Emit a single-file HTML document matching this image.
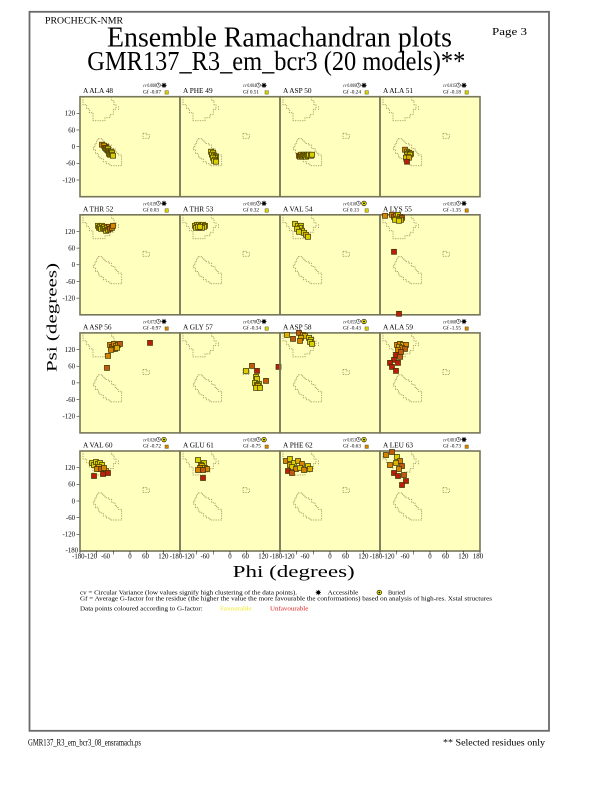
<!DOCTYPE html>
<html><head><meta charset="utf-8"><style>
html,body{margin:0;padding:0;background:#fff;}
svg{display:block;font-family:"Liberation Serif",serif;}
.lb{font-size:7.3px;fill:#000;}
.cv{font-size:5px;fill:#000;}
.tk{font-size:6.8px;fill:#000;}
.Y{fill:#d8d000;}.L{fill:#dcb000;}.O{fill:#d88400;}.B{fill:#c05a10;}.R{fill:#bc1e0c;}
</style></head><body>
<svg width="612" height="792" viewBox="0 0 612 792" xmlns="http://www.w3.org/2000/svg" xmlns:xlink="http://www.w3.org/1999/xlink">
<defs>
<g id="reg" fill="none" stroke="#978858" stroke-width="0.75" stroke-dasharray="1.3 1.1">
<path d="M3,0V8H6.7V12H9.3V16H13V24H25V21H30V17.5H33.3V12.5H36V8H34V4H31.7V0"/>
<path d="M38.5,9.5V13.5"/>
<path d="M18.3,42H22.7V44.3H25V46.7H28.3V48.3H31.7V51.7H35V54.3H36.7V56.7H38.3V58.3H41.7V69H30V67H26.7V65H23.3V62H20V60H18.3V56.7H15.5V53H13.3V50H15V46.7H16.7V43.3H18.3Z"/>
<path d="M63,36.5H66.5V38H69.5V41.5H63Z"/>
</g>
<rect id="s" x="-2.5" y="-2.5" width="5" height="5" stroke="#3a3000" stroke-width="0.7"/>
<g id="clk"><circle r="2.1" fill="#fff" stroke="#000" stroke-width="0.5"/><path d="M0,-1.5V0H1.1" stroke="#000" stroke-width="0.45" fill="none"/></g>
<g id="acc"><circle r="1.6" fill="#000"/><path d="M-2.6,0H2.6M0,-2.6V2.6M-1.9,-1.9L1.9,1.9M-1.9,1.9L1.9,-1.9" stroke="#000" stroke-width="0.8"/></g>
<g id="bur"><circle r="2.3" fill="#f4e800" stroke="#000" stroke-width="0.6"/><circle r="0.9" fill="#000"/></g>
<g id="yt">
<path d="M76.5,16.7H80M76.5,33.3H80M76.5,50H80M76.5,66.7H80M76.5,83.3H80" stroke="#000" stroke-width="0.5"/>
<text class="tk" x="75" y="19" text-anchor="end">120</text>
<text class="tk" x="75" y="35.6" text-anchor="end">60</text>
<text class="tk" x="75" y="52.3" text-anchor="end">0</text>
<text class="tk" x="75" y="69" text-anchor="end">-60</text>
<text class="tk" x="75" y="85.6" text-anchor="end">-120</text>
</g>
</defs>

<rect x="29.5" y="11.8" width="519.5" height="719" fill="none" stroke="#6a6a6a" stroke-width="1.8"/>
<text x="45" y="23.3" font-size="9" textLength="78" lengthAdjust="spacingAndGlyphs">PROCHECK-NMR</text>
<text x="492" y="35" font-size="10" textLength="35" lengthAdjust="spacingAndGlyphs">Page  3</text>
<text x="107" y="46.7" font-size="28" textLength="345" lengthAdjust="spacingAndGlyphs">Ensemble Ramachandran plots</text>
<text x="87.3" y="70" font-size="27" textLength="378" lengthAdjust="spacingAndGlyphs">GMR137_R3_em_bcr3 (20 models)**</text>

<g fill="#ffffbe">
<rect x="80" y="96.7" width="400" height="100"/>
<rect x="80" y="214.8" width="400" height="100"/>
<rect x="80" y="332.9" width="400" height="100"/>
<rect x="80" y="451" width="400" height="100"/>
</g>

<use href="#yt" y="96.7"/><use href="#yt" y="214.8"/><use href="#yt" y="332.9"/><use href="#yt" y="451"/>
<text class="tk" x="78" y="552.7" text-anchor="end">-180</text>

<g transform="translate(80,96.7)">
<use href="#reg"/><rect width="100" height="100" fill="none" stroke="#76765a" stroke-width="1.6"/>
<text class="lb" x="3" y="-3.5">A ALA 48</text>
<text class="cv" x="63" y="-9.5" textLength="13" lengthAdjust="spacingAndGlyphs"><tspan font-style="italic">cv</tspan> 0.008</text>
<use href="#clk" x="78.4" y="-11.6"/><use href="#acc" x="84" y="-11.4"/>
<text class="cv" x="63" y="-3.4" textLength="18" lengthAdjust="spacingAndGlyphs">Gf -0.07</text>
<rect x="85" y="-6" width="3.4" height="3.4" class="Y" stroke="#404000" stroke-width="0.4"/>
<use href="#s" x="22" y="48" class="O"/><use href="#s" x="26" y="50" class="O"/><use href="#s" x="24" y="49" class="L"/><use href="#s" x="25" y="51" class="B"/><use href="#s" x="26" y="52" class="Y"/><use href="#s" x="27" y="53" class="L"/><use href="#s" x="28" y="52" class="Y"/><use href="#s" x="28" y="54" class="Y"/><use href="#s" x="29" y="55" class="Y"/><use href="#s" x="30" y="56" class="L"/><use href="#s" x="31" y="55" class="Y"/><use href="#s" x="29" y="57" class="L"/><use href="#s" x="30" y="58" class="Y"/><use href="#s" x="31" y="57" class="Y"/><use href="#s" x="32" y="56" class="Y"/><use href="#s" x="32" y="58" class="Y"/><use href="#s" x="33" y="59" class="Y"/>
</g>
<g transform="translate(180,96.7)">
<use href="#reg"/><rect width="100" height="100" fill="none" stroke="#76765a" stroke-width="1.6"/>
<text class="lb" x="3" y="-3.5">A PHE 49</text>
<text class="cv" x="63" y="-9.5" textLength="13" lengthAdjust="spacingAndGlyphs"><tspan font-style="italic">cv</tspan> 0.004</text>
<use href="#clk" x="78.4" y="-11.6"/><use href="#acc" x="84" y="-11.4"/>
<text class="cv" x="63" y="-3.4" textLength="16" lengthAdjust="spacingAndGlyphs">Gf 0.51</text>
<rect x="85" y="-6" width="3.4" height="3.4" class="Y" stroke="#404000" stroke-width="0.4"/>
<use href="#s" x="32" y="57" class="L"/><use href="#s" x="31" y="55" class="Y"/><use href="#s" x="33" y="56" class="Y"/><use href="#s" x="32" y="58" class="Y"/><use href="#s" x="34" y="59" class="Y"/><use href="#s" x="36" y="60" class="Y"/><use href="#s" x="35" y="61" class="Y"/><use href="#s" x="33" y="61" class="Y"/><use href="#s" x="35" y="63" class="Y"/><use href="#s" x="34" y="64" class="Y"/><use href="#s" x="36" y="65" class="Y"/>
</g>
<g transform="translate(280,96.7)">
<use href="#reg"/><rect width="100" height="100" fill="none" stroke="#76765a" stroke-width="1.6"/>
<text class="lb" x="3" y="-3.5">A ASP 50</text>
<text class="cv" x="63" y="-9.5" textLength="13" lengthAdjust="spacingAndGlyphs"><tspan font-style="italic">cv</tspan> 0.006</text>
<use href="#clk" x="78.4" y="-11.6"/><use href="#acc" x="84" y="-11.4"/>
<text class="cv" x="63" y="-3.4" textLength="18" lengthAdjust="spacingAndGlyphs">Gf -0.24</text>
<rect x="85" y="-6" width="3.4" height="3.4" class="Y" stroke="#404000" stroke-width="0.4"/>
<use href="#s" x="19" y="59" class="B"/><use href="#s" x="20" y="60" class="O"/><use href="#s" x="21" y="58" class="L"/><use href="#s" x="22" y="60" class="Y"/><use href="#s" x="23" y="59" class="Y"/><use href="#s" x="24" y="58" class="L"/><use href="#s" x="25" y="59" class="Y"/><use href="#s" x="26" y="60" class="Y"/><use href="#s" x="27" y="58" class="Y"/><use href="#s" x="28" y="59" class="Y"/><use href="#s" x="29" y="58" class="Y"/><use href="#s" x="31" y="59" class="Y"/><use href="#s" x="32" y="58" class="Y"/>
</g>
<g transform="translate(380,96.7)">
<use href="#reg"/><rect width="100" height="100" fill="none" stroke="#76765a" stroke-width="1.6"/>
<text class="lb" x="3" y="-3.5">A ALA 51</text>
<text class="cv" x="63" y="-9.5" textLength="13" lengthAdjust="spacingAndGlyphs"><tspan font-style="italic">cv</tspan> 0.015</text>
<use href="#clk" x="78.4" y="-11.6"/><use href="#acc" x="84" y="-11.4"/>
<text class="cv" x="63" y="-3.4" textLength="18" lengthAdjust="spacingAndGlyphs">Gf -0.18</text>
<rect x="85" y="-6" width="3.4" height="3.4" class="Y" stroke="#404000" stroke-width="0.4"/>
<use href="#s" x="25" y="53" class="O"/><use href="#s" x="27" y="55" class="Y"/><use href="#s" x="29" y="56" class="Y"/><use href="#s" x="28" y="57" class="Y"/><use href="#s" x="31" y="57" class="Y"/><use href="#s" x="27" y="58" class="Y"/><use href="#s" x="30" y="58" class="Y"/><use href="#s" x="28" y="60" class="Y"/><use href="#s" x="26" y="61" class="Y"/><use href="#s" x="29" y="61" class="L"/><use href="#s" x="27" y="65" class="R"/>
</g>

<g transform="translate(80,214.8)">
<use href="#reg"/><rect width="100" height="100" fill="none" stroke="#76765a" stroke-width="1.6"/>
<text class="lb" x="3" y="-3.5">A THR 52</text>
<text class="cv" x="63" y="-9.5" textLength="13" lengthAdjust="spacingAndGlyphs"><tspan font-style="italic">cv</tspan> 0.019</text>
<use href="#clk" x="78.4" y="-11.6"/><use href="#acc" x="84" y="-11.4"/>
<text class="cv" x="63" y="-3.4" textLength="16" lengthAdjust="spacingAndGlyphs">Gf 0.03</text>
<rect x="85" y="-6" width="3.4" height="3.4" class="Y" stroke="#404000" stroke-width="0.4"/>
<use href="#s" x="18" y="11" class="Y"/><use href="#s" x="19" y="13" class="Y"/><use href="#s" x="20" y="12" class="Y"/><use href="#s" x="22" y="11" class="Y"/><use href="#s" x="21" y="14" class="Y"/><use href="#s" x="23" y="13" class="Y"/><use href="#s" x="24" y="12" class="L"/><use href="#s" x="25" y="14" class="Y"/><use href="#s" x="26" y="16" class="Y"/><use href="#s" x="27" y="13" class="Y"/><use href="#s" x="28" y="15" class="L"/><use href="#s" x="29" y="12" class="O"/><use href="#s" x="30" y="14" class="B"/><use href="#s" x="32" y="13" class="O"/><use href="#s" x="33" y="11" class="O"/>
</g>
<g transform="translate(180,214.8)">
<use href="#reg"/><rect width="100" height="100" fill="none" stroke="#76765a" stroke-width="1.6"/>
<text class="lb" x="3" y="-3.5">A THR 53</text>
<text class="cv" x="63" y="-9.5" textLength="13" lengthAdjust="spacingAndGlyphs"><tspan font-style="italic">cv</tspan> 0.005</text>
<use href="#clk" x="78.4" y="-11.6"/><use href="#acc" x="84" y="-11.4"/>
<text class="cv" x="63" y="-3.4" textLength="16" lengthAdjust="spacingAndGlyphs">Gf 0.32</text>
<rect x="85" y="-6" width="3.4" height="3.4" class="Y" stroke="#404000" stroke-width="0.4"/>
<use href="#s" x="15" y="11" class="Y"/><use href="#s" x="17" y="10" class="Y"/><use href="#s" x="19" y="10" class="Y"/><use href="#s" x="21" y="11" class="Y"/><use href="#s" x="23" y="10" class="Y"/><use href="#s" x="25" y="11" class="L"/><use href="#s" x="24" y="12" class="Y"/><use href="#s" x="22" y="13" class="Y"/><use href="#s" x="19" y="13" class="Y"/><use href="#s" x="16" y="13" class="Y"/><use href="#s" x="18" y="12" class="Y"/><use href="#s" x="20" y="12" class="Y"/>
</g>
<g transform="translate(280,214.8)">
<use href="#reg"/><rect width="100" height="100" fill="none" stroke="#76765a" stroke-width="1.6"/>
<text class="lb" x="3" y="-3.5">A VAL 54</text>
<text class="cv" x="63" y="-9.5" textLength="13" lengthAdjust="spacingAndGlyphs"><tspan font-style="italic">cv</tspan> 0.010</text>
<use href="#clk" x="78.4" y="-11.6"/><use href="#bur" x="84" y="-11.4"/>
<text class="cv" x="63" y="-3.4" textLength="16" lengthAdjust="spacingAndGlyphs">Gf 0.13</text>
<rect x="85" y="-6" width="3.4" height="3.4" class="Y" stroke="#404000" stroke-width="0.4"/>
<use href="#s" x="15" y="9" class="Y"/><use href="#s" x="18" y="11" class="Y"/><use href="#s" x="21" y="11" class="Y"/><use href="#s" x="20" y="13" class="Y"/><use href="#s" x="17" y="14" class="Y"/><use href="#s" x="22" y="16" class="Y"/><use href="#s" x="19" y="17" class="Y"/><use href="#s" x="24" y="18" class="Y"/><use href="#s" x="26" y="20" class="L"/><use href="#s" x="28" y="22" class="Y"/>
</g>
<g transform="translate(380,214.8)">
<use href="#reg"/><rect width="100" height="100" fill="none" stroke="#76765a" stroke-width="1.6"/>
<text class="lb" x="3" y="-3.5">A LYS 55</text>
<text class="cv" x="63" y="-9.5" textLength="13" lengthAdjust="spacingAndGlyphs"><tspan font-style="italic">cv</tspan> 0.053</text>
<use href="#clk" x="78.4" y="-11.6"/><use href="#acc" x="84" y="-11.4"/>
<text class="cv" x="63" y="-3.4" textLength="18" lengthAdjust="spacingAndGlyphs">Gf -1.35</text>
<rect x="85" y="-6" width="3.4" height="3.4" class="O" stroke="#404000" stroke-width="0.4"/>
<use href="#s" x="5" y="1" class="O"/><use href="#s" x="12" y="0" class="O"/><use href="#s" x="14" y="2" class="B"/><use href="#s" x="16" y="1" class="O"/><use href="#s" x="18" y="0" class="Y"/><use href="#s" x="20" y="2" class="O"/><use href="#s" x="22" y="3" class="B"/><use href="#s" x="17" y="4" class="Y"/><use href="#s" x="15" y="5" class="Y"/><use href="#s" x="21" y="5" class="L"/><use href="#s" x="19" y="6" class="Y"/><use href="#s" x="14" y="37" class="R"/><use href="#s" x="19" y="99" class="R"/>
</g>

<g transform="translate(80,332.9)">
<use href="#reg"/><rect width="100" height="100" fill="none" stroke="#76765a" stroke-width="1.6"/>
<text class="lb" x="3" y="-3.5">A ASP 56</text>
<text class="cv" x="63" y="-9.5" textLength="13" lengthAdjust="spacingAndGlyphs"><tspan font-style="italic">cv</tspan> 0.072</text>
<use href="#clk" x="78.4" y="-11.6"/><use href="#acc" x="84" y="-11.4"/>
<text class="cv" x="63" y="-3.4" textLength="18" lengthAdjust="spacingAndGlyphs">Gf -0.97</text>
<rect x="85" y="-6" width="3.4" height="3.4" class="O" stroke="#404000" stroke-width="0.4"/>
<use href="#s" x="30" y="12" class="O"/><use href="#s" x="32" y="14" class="B"/><use href="#s" x="34" y="11" class="O"/><use href="#s" x="36" y="13" class="L"/><use href="#s" x="38" y="12" class="O"/><use href="#s" x="40" y="11" class="B"/><use href="#s" x="33" y="16" class="Y"/><use href="#s" x="35" y="16" class="O"/><use href="#s" x="37" y="15" class="L"/><use href="#s" x="31" y="17" class="O"/><use href="#s" x="28" y="23" class="O"/><use href="#s" x="27" y="35" class="B"/><use href="#s" x="70" y="10" class="R"/>
</g>
<g transform="translate(180,332.9)">
<use href="#reg"/><rect width="100" height="100" fill="none" stroke="#76765a" stroke-width="1.6"/>
<text class="lb" x="3" y="-3.5">A GLY 57</text>
<text class="cv" x="63" y="-9.5" textLength="13" lengthAdjust="spacingAndGlyphs"><tspan font-style="italic">cv</tspan> 0.078</text>
<use href="#clk" x="78.4" y="-11.6"/><use href="#acc" x="84" y="-11.4"/>
<text class="cv" x="63" y="-3.4" textLength="18" lengthAdjust="spacingAndGlyphs">Gf -0.34</text>
<rect x="85" y="-6" width="3.4" height="3.4" class="Y" stroke="#404000" stroke-width="0.4"/>
<use href="#s" x="72" y="33" class="B"/><use href="#s" x="66" y="38" class="Y"/><use href="#s" x="77" y="38" class="R"/><use href="#s" x="76" y="44" class="Y"/><use href="#s" x="77" y="46" class="Y"/><use href="#s" x="86" y="48" class="B"/><use href="#s" x="75" y="50" class="Y"/><use href="#s" x="79" y="51" class="Y"/><use href="#s" x="77" y="52" class="Y"/><use href="#s" x="78" y="53" class="L"/><use href="#s" x="76" y="55" class="Y"/><use href="#s" x="80" y="55" class="Y"/><use href="#s" x="98.5" y="34" class="R"/>
</g>
<g transform="translate(280,332.9)">
<use href="#reg"/><rect width="100" height="100" fill="none" stroke="#76765a" stroke-width="1.6"/>
<text class="lb" x="3" y="-3.5">A ASP 58</text>
<text class="cv" x="63" y="-9.5" textLength="13" lengthAdjust="spacingAndGlyphs"><tspan font-style="italic">cv</tspan> 0.055</text>
<use href="#clk" x="78.4" y="-11.6"/><use href="#bur" x="84" y="-11.4"/>
<text class="cv" x="63" y="-3.4" textLength="18" lengthAdjust="spacingAndGlyphs">Gf -0.43</text>
<rect x="85" y="-6" width="3.4" height="3.4" class="Y" stroke="#404000" stroke-width="0.4"/>
<use href="#s" x="7" y="2" class="L"/><use href="#s" x="13" y="6" class="B"/><use href="#s" x="19" y="0" class="B"/><use href="#s" x="23" y="2" class="O"/><use href="#s" x="25" y="3" class="L"/><use href="#s" x="21" y="5" class="L"/><use href="#s" x="20" y="8" class="O"/><use href="#s" x="29" y="5" class="Y"/><use href="#s" x="31" y="7" class="Y"/><use href="#s" x="30" y="9" class="Y"/><use href="#s" x="32" y="11" class="Y"/>
</g>
<g transform="translate(380,332.9)">
<use href="#reg"/><rect width="100" height="100" fill="none" stroke="#76765a" stroke-width="1.6"/>
<text class="lb" x="3" y="-3.5">A ALA 59</text>
<text class="cv" x="63" y="-9.5" textLength="13" lengthAdjust="spacingAndGlyphs"><tspan font-style="italic">cv</tspan> 0.068</text>
<use href="#clk" x="78.4" y="-11.6"/><use href="#acc" x="84" y="-11.4"/>
<text class="cv" x="63" y="-3.4" textLength="18" lengthAdjust="spacingAndGlyphs">Gf -1.55</text>
<rect x="85" y="-6" width="3.4" height="3.4" class="O" stroke="#404000" stroke-width="0.4"/>
<use href="#s" x="17" y="12" class="O"/><use href="#s" x="20" y="11" class="O"/><use href="#s" x="23" y="12" class="L"/><use href="#s" x="26" y="12" class="O"/><use href="#s" x="19" y="14" class="L"/><use href="#s" x="22" y="15" class="O"/><use href="#s" x="25" y="16" class="B"/><use href="#s" x="18" y="17" class="O"/><use href="#s" x="21" y="19" class="B"/><use href="#s" x="16" y="22" class="R"/><use href="#s" x="20" y="24" class="B"/><use href="#s" x="14" y="27" class="R"/><use href="#s" x="10" y="30" class="R"/><use href="#s" x="18" y="30" class="R"/><use href="#s" x="12" y="34" class="R"/><use href="#s" x="16" y="38" class="R"/>
</g>

<g transform="translate(80,451)">
<use href="#reg"/><rect width="100" height="100" fill="none" stroke="#76765a" stroke-width="1.6"/>
<text class="lb" x="3" y="-3.5">A VAL 60</text>
<text class="cv" x="63" y="-9.5" textLength="13" lengthAdjust="spacingAndGlyphs"><tspan font-style="italic">cv</tspan> 0.026</text>
<use href="#clk" x="78.4" y="-11.6"/><use href="#bur" x="84" y="-11.4"/>
<text class="cv" x="63" y="-3.4" textLength="18" lengthAdjust="spacingAndGlyphs">Gf -0.72</text>
<rect x="85" y="-6" width="3.4" height="3.4" class="O" stroke="#404000" stroke-width="0.4"/>
<use href="#s" x="12" y="12" class="Y"/><use href="#s" x="14" y="14" class="Y"/><use href="#s" x="16" y="11" class="Y"/><use href="#s" x="18" y="13" class="Y"/><use href="#s" x="20" y="12" class="Y"/><use href="#s" x="22" y="14" class="Y"/><use href="#s" x="19" y="16" class="L"/><use href="#s" x="26" y="20" class="Y"/><use href="#s" x="17" y="18" class="O"/><use href="#s" x="21" y="18" class="B"/><use href="#s" x="24" y="17" class="O"/><use href="#s" x="14" y="25" class="R"/><use href="#s" x="23" y="23" class="R"/><use href="#s" x="28" y="22" class="R"/>
</g>
<g transform="translate(180,451)">
<use href="#reg"/><rect width="100" height="100" fill="none" stroke="#76765a" stroke-width="1.6"/>
<text class="lb" x="3" y="-3.5">A GLU 61</text>
<text class="cv" x="63" y="-9.5" textLength="13" lengthAdjust="spacingAndGlyphs"><tspan font-style="italic">cv</tspan> 0.028</text>
<use href="#clk" x="78.4" y="-11.6"/><use href="#bur" x="84" y="-11.4"/>
<text class="cv" x="63" y="-3.4" textLength="18" lengthAdjust="spacingAndGlyphs">Gf -0.75</text>
<rect x="85" y="-6" width="3.4" height="3.4" class="O" stroke="#404000" stroke-width="0.4"/>
<use href="#s" x="18" y="9" class="Y"/><use href="#s" x="24" y="12" class="Y"/><use href="#s" x="21" y="14" class="Y"/><use href="#s" x="22" y="15" class="L"/><use href="#s" x="20" y="17" class="O"/><use href="#s" x="25" y="17" class="Y"/><use href="#s" x="27" y="18" class="O"/><use href="#s" x="18" y="19" class="O"/><use href="#s" x="23" y="19" class="B"/><use href="#s" x="23" y="27" class="R"/>
</g>
<g transform="translate(280,451)">
<use href="#reg"/><rect width="100" height="100" fill="none" stroke="#76765a" stroke-width="1.6"/>
<text class="lb" x="3" y="-3.5">A PHE 62</text>
<text class="cv" x="63" y="-9.5" textLength="13" lengthAdjust="spacingAndGlyphs"><tspan font-style="italic">cv</tspan> 0.053</text>
<use href="#clk" x="78.4" y="-11.6"/><use href="#bur" x="84" y="-11.4"/>
<text class="cv" x="63" y="-3.4" textLength="18" lengthAdjust="spacingAndGlyphs">Gf -0.63</text>
<rect x="85" y="-6" width="3.4" height="3.4" class="O" stroke="#404000" stroke-width="0.4"/>
<use href="#s" x="6" y="10" class="O"/><use href="#s" x="10" y="8" class="Y"/><use href="#s" x="10" y="14" class="L"/><use href="#s" x="14" y="12" class="Y"/><use href="#s" x="18" y="10" class="L"/><use href="#s" x="22" y="13" class="O"/><use href="#s" x="12" y="16" class="Y"/><use href="#s" x="16" y="18" class="O"/><use href="#s" x="20" y="17" class="Y"/><use href="#s" x="28" y="15" class="Y"/><use href="#s" x="30" y="18" class="L"/><use href="#s" x="24" y="19" class="O"/><use href="#s" x="8" y="20" class="R"/><use href="#s" x="12" y="22" class="B"/>
</g>
<g transform="translate(380,451)">
<use href="#reg"/><rect width="100" height="100" fill="none" stroke="#76765a" stroke-width="1.6"/>
<text class="lb" x="3" y="-3.5">A LEU 63</text>
<text class="cv" x="63" y="-9.5" textLength="13" lengthAdjust="spacingAndGlyphs"><tspan font-style="italic">cv</tspan> 0.081</text>
<use href="#clk" x="78.4" y="-11.6"/><use href="#acc" x="84" y="-11.4"/>
<text class="cv" x="63" y="-3.4" textLength="18" lengthAdjust="spacingAndGlyphs">Gf -0.73</text>
<rect x="85" y="-6" width="3.4" height="3.4" class="O" stroke="#404000" stroke-width="0.4"/>
<use href="#s" x="6" y="4" class="O"/><use href="#s" x="12" y="1" class="B"/><use href="#s" x="17" y="6" class="Y"/><use href="#s" x="20" y="10" class="O"/><use href="#s" x="16" y="12" class="L"/><use href="#s" x="10" y="14" class="O"/><use href="#s" x="22" y="15" class="B"/><use href="#s" x="19" y="18" class="O"/><use href="#s" x="14" y="22" class="R"/><use href="#s" x="24" y="24" class="B"/><use href="#s" x="18" y="25" class="R"/><use href="#s" x="26" y="30" class="R"/><use href="#s" x="22" y="34" class="R"/>
</g>

<path stroke="#000" stroke-width="0.5" d="M80,551V554.5M96.7,551V554.5M113.3,551V554.5M130,551V554.5M146.7,551V554.5M163.3,551V554.5M180,551V554.5M196.7,551V554.5M213.3,551V554.5M230,551V554.5M246.7,551V554.5M263.3,551V554.5M280,551V554.5M296.7,551V554.5M313.3,551V554.5M330,551V554.5M346.7,551V554.5M363.3,551V554.5M380,551V554.5M396.7,551V554.5M413.3,551V554.5M430,551V554.5M446.7,551V554.5M463.3,551V554.5M480,551V554.5"/>
<g class="tk" text-anchor="middle">
<text x="78.3" y="558.5">-180</text><text x="90.8" y="558.5">-120</text><text x="105.5" y="558.5">-60</text><text x="130" y="558.5">0</text><text x="145.5" y="558.5">60</text><text x="163.3" y="558.5">120</text>
<text x="176" y="558.5">-180</text><text x="188.3" y="558.5">-120</text><text x="205" y="558.5">-60</text><text x="230" y="558.5">0</text><text x="245.5" y="558.5">60</text><text x="263.3" y="558.5">120</text>
<text x="276" y="558.5">-180</text><text x="288.3" y="558.5">-120</text><text x="305" y="558.5">-60</text><text x="330" y="558.5">0</text><text x="345.5" y="558.5">60</text><text x="363.3" y="558.5">120</text>
<text x="376" y="558.5">-180</text><text x="388.3" y="558.5">-120</text><text x="405" y="558.5">-60</text><text x="430" y="558.5">0</text><text x="445.5" y="558.5">60</text><text x="463.3" y="558.5">120</text>
<text x="478" y="558.5">180</text>
</g>

<text x="232.7" y="577" font-size="16.5" textLength="122" lengthAdjust="spacingAndGlyphs">Phi (degrees)</text>
<text transform="translate(56.5,372) rotate(-90)" font-size="15" textLength="109" lengthAdjust="spacingAndGlyphs">Psi (degrees)</text>

<text x="80" y="594.5" font-size="5.8" textLength="217" lengthAdjust="spacingAndGlyphs">cv = Circular Variance (low values signify high clustering of the data points).</text>
<use href="#acc" x="318.3" y="592.5"/>
<text x="327.7" y="594.5" font-size="5.8" textLength="30.6" lengthAdjust="spacingAndGlyphs">Accessible</text>
<use href="#bur" x="379.3" y="592.5"/>
<text x="388" y="594.5" font-size="5.8" textLength="17" lengthAdjust="spacingAndGlyphs">Buried</text>
<text x="80" y="600.5" font-size="5.8" textLength="412" lengthAdjust="spacingAndGlyphs">Gf = Average G-factor for the residue (the higher the value the more favourable the conformations) based on analysis of high-res. Xstal structures</text>
<text x="80" y="610.5" font-size="5.8" textLength="122.7" lengthAdjust="spacingAndGlyphs">Data points coloured according to G-factor:</text>
<text x="220" y="610.5" font-size="5.8" fill="#f0ec20" textLength="31.7" lengthAdjust="spacingAndGlyphs">Favourable</text>
<text x="270" y="610.5" font-size="5.8" fill="#e01818" textLength="38.3" lengthAdjust="spacingAndGlyphs">Unfavourable</text>

<text x="28" y="745.5" font-size="9" textLength="113" lengthAdjust="spacingAndGlyphs">GMR137_R3_em_bcr3_08_ensramach.ps</text>
<text x="443" y="745.5" font-size="9" textLength="102" lengthAdjust="spacingAndGlyphs">** Selected residues only</text>
</svg>
</body></html>
